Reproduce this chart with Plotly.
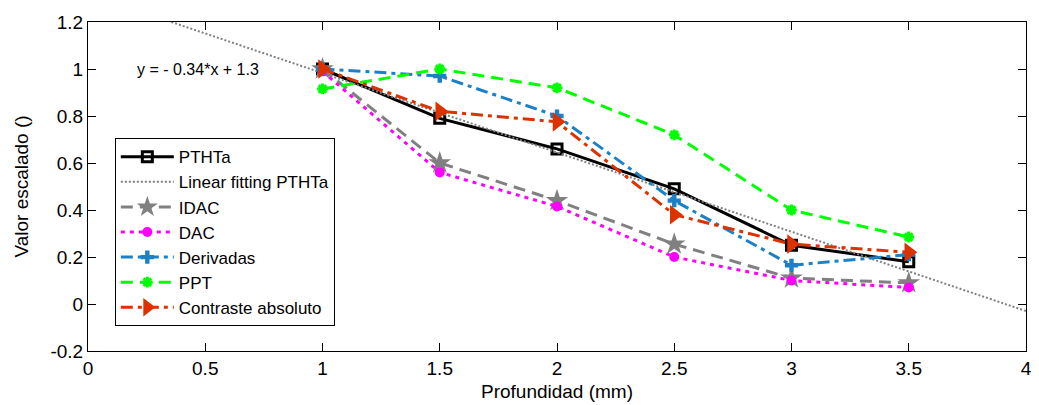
import plotly.graph_objects as go

depth = [1, 1.5, 2, 2.5, 3, 3.5]
ptht = [1.0, 0.79, 0.66, 0.49, 0.25, 0.18]
fit_x = [0, 4]
fit_y = [1.32, -0.03]
idac = [1.0, 0.60, 0.44, 0.255, 0.11, 0.09]
dac = [0.99, 0.56, 0.415, 0.20, 0.10, 0.07]
deriv = [1.0, 0.97, 0.80, 0.44, 0.165, 0.21]
ppt = [0.915, 1.0, 0.92, 0.72, 0.40, 0.285]
contraste = [1.0, 0.82, 0.775, 0.38, 0.255, 0.22]

x_ticks = [0, 0.5, 1, 1.5, 2, 2.5, 3, 3.5, 4]
x_tick_labels = ["0", "0.5", "1", "1.5", "2", "2.5", "3", "3.5", "4"]
y_ticks = [-0.2, 0, 0.2, 0.4, 0.6, 0.8, 1, 1.2]
y_tick_labels = ["-0.2", "0", "0.2", "0.4", "0.6", "0.8", "1", "1.2"]

FONT = "Liberation Sans, Arial"

fig = go.Figure()

def add(name, x, y, color, dash, symbol, size, mode="lines+markers", width=3, mlw=0):
    fig.add_trace(go.Scatter(
        x=x, y=y, name=name, mode=mode,
        line=dict(color=color, width=width, dash=dash),
        marker=dict(symbol=symbol, size=size, color=color,
                    line=dict(color=color, width=mlw)),
        cliponaxis=True,
    ))

add("PTHTa", depth, ptht, "black", "solid", "square-open", 10, mlw=3)
add("Linear fitting PTHTa", fit_x, fit_y, "#808080", "2px,2px", "circle", 1, mode="lines", width=2)
add("IDAC", depth, idac, "#808080", "12px,7px", "star", 17)
add("DAC", depth, dac, "#ff00ff", "4px,5px", "circle", 10)
add("Derivadas", depth, deriv, "#1a80c8", "12px,5px,4px,5px", "cross", 11)
add("PPT", depth, ppt, "#00ff00", "12px,7px", "asterisk-open", 9, mlw=3)
add("Contraste absoluto", depth, contraste, "#dc3200", "12px,5px,4px,5px", "triangle-right", 17)

fig.add_annotation(x=0.2, y=1.0, xref="x", yref="y", text="y = - 0.34*x + 1.3",
                   showarrow=False, xanchor="left", yanchor="middle",
                   font=dict(family=FONT, size=16, color="black"))

axis_common = dict(showgrid=False, zeroline=False, showline=True, linecolor="black",
                   linewidth=1, mirror="ticks", ticks="inside", ticklen=8,
                   tickcolor="black", tickfont=dict(family=FONT, size=19, color="black"))

fig.update_xaxes(range=[0, 4], tickvals=x_ticks, ticktext=x_tick_labels,
                 title=dict(text="Profundidad (mm)", font=dict(family=FONT, size=19, color="black"), standoff=6),
                 **axis_common)
fig.update_yaxes(range=[-0.2, 1.2], tickvals=y_ticks, ticktext=y_tick_labels,
                 title=dict(text="Valor escalado ()", font=dict(family=FONT, size=19, color="black"), standoff=16),
                 **axis_common)

fig.update_layout(
    width=1039, height=405,
    margin=dict(l=88, r=7, t=22, b=54),
    paper_bgcolor="white", plot_bgcolor="white",
    showlegend=True,
    legend=dict(x=0.0286, y=0.647, xanchor="left", yanchor="top",
                bgcolor="white", bordercolor="black", borderwidth=1,
                font=dict(family=FONT, size=17, color="black"),
                itemwidth=53),
)

fig.write_html("out.html")
